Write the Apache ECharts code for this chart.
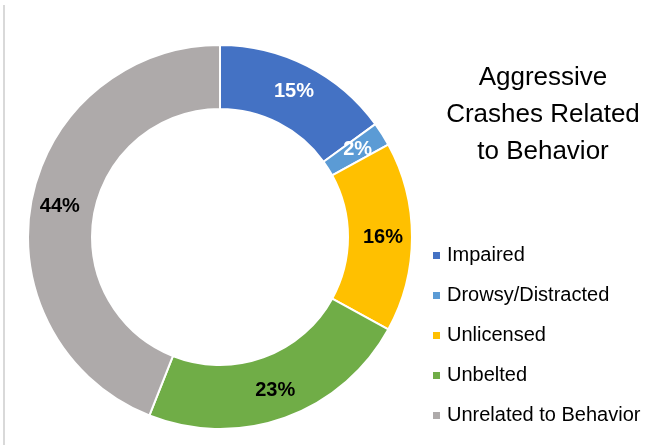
<!DOCTYPE html>
<html>
<head>
<meta charset="utf-8">
<script src="https://cdn.jsdelivr.net/npm/echarts@6/dist/echarts.min.js"></script>
<style>
  html, body { margin: 0; padding: 0; background: #fff; }
  #chart { width: 671px; height: 445px; }
</style>
</head>
<body>
<div id="chart"></div>
<script>
// Share of aggressive crashes by related driver behavior (percent)
const categories = ['Impaired', 'Drowsy/Distracted', 'Unlicensed', 'Unbelted', 'Unrelated to Behavior'];
const shares = [15, 2, 16, 23, 44];
const sliceColors = ['#4472C4', '#5B9BD5', '#FFC000', '#70AD47', '#AEAAAA'];
const labelColors = ['#ffffff', '#ffffff', '#000000', '#000000', '#000000'];
const titleLines = ['Aggressive', 'Crashes Related', 'to Behavior'];

const FONT = '"Liberation Sans", Arial, sans-serif';

const chart = echarts.init(document.getElementById('chart'), null, { renderer: 'canvas' });

chart.setOption({
  animation: false,
  backgroundColor: '#ffffff',
  color: sliceColors,
  title: {
    text: titleLines.join('\n'),
    left: 538,
    top: 54,
    textAlign: 'center',
    textStyle: {
      fontFamily: FONT,
      fontSize: 26,
      fontWeight: 'normal',
      color: '#000000',
      lineHeight: 37
    }
  },
  legend: {
    orient: 'vertical',
    left: 431,
    top: 245,
    padding: 0,
    icon: 'rect',
    itemWidth: 9,
    itemHeight: 9,
    itemGap: 19,
    data: categories,
    textStyle: {
      fontFamily: FONT,
      fontSize: 20,
      color: '#000000',
      lineHeight: 21,
      padding: [0, 0, 0, 1]
    }
  },
  graphic: [{
    type: 'line',
    shape: { x1: 4, y1: 5, x2: 4, y2: 445 },
    style: { stroke: '#d9d9d9', lineWidth: 2 }
  }],
  series: [{
    type: 'pie',
    center: [220, 237],
    radius: [128, 192],
    startAngle: 90,
    clockwise: true,
    avoidLabelOverlap: false,
    itemStyle: { borderColor: '#ffffff', borderWidth: 2 },
    label: {
      show: true,
      position: 'inside',
      fontFamily: FONT,
      fontSize: 20,
      fontWeight: 'bold',
      formatter: p => p.value + '%'
    },
    labelLine: { show: false },
    emphasis: { disabled: true },
    data: categories.map((name, i) => ({
      name,
      value: shares[i],
      label: { color: labelColors[i] }
    }))
  }]
});
</script>
</body>
</html>
